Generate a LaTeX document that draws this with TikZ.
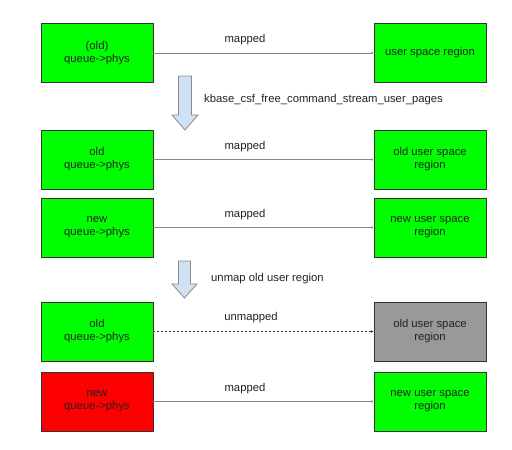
\documentclass[tikz,border=0pt]{standalone}
\usepackage{fontspec}
\setmainfont{Liberation Sans}
\usetikzlibrary{arrows.meta}
\definecolor{boxgreen}{HTML}{00FF00}
\definecolor{boxred}{HTML}{FF0000}
\definecolor{boxgray}{HTML}{999999}
\definecolor{edgegray}{HTML}{333333}
\definecolor{linegray}{HTML}{8A8A8A}
\definecolor{arrowblue}{HTML}{CFE2F3}
\definecolor{arrowedge}{HTML}{8C8C8C}
\definecolor{txt}{HTML}{222222}
\tikzset{
  region/.style={draw=edgegray, line width=0.8pt, minimum width=112pt, minimum height=59pt,
    inner sep=0pt, align=center, text=txt, font=\fontsize{11.3}{13}\selectfont},
  link/.style={draw=linegray, line width=0.8pt, -{Latex[length=2.5pt,width=2.5pt]}},
  deadlink/.style={draw=edgegray, line width=0.6pt, dashed, dash pattern=on 2pt off 2pt, -{Latex[length=2.5pt,width=2.5pt]}},
  lbl/.style={text=txt, font=\fontsize{11.3}{13}\selectfont, inner sep=0pt},
  blockarrow/.style={fill=arrowblue, draw=arrowedge, line width=0.8pt, line join=miter}
}
\begin{document}
\begin{tikzpicture}[x=1pt,y=-1pt]
\useasboundingbox (0,0) rectangle (512,450);
% row 1
\node[region, fill=boxgreen] (l1) at (97,53) {(old)\\queue->phys};
\node[region, fill=boxgreen] (r1) at (430,53) {user space region};
\draw[link] (l1) -- (r1);
\node[lbl] (m1) at (245,40) {mapped};
% block arrow 1
\draw[blockarrow] (178.5,76) -- (191.5,76) -- (191.5,115) -- (198,115) -- (185,130) -- (172,115) -- (178.5,115) -- cycle;
\node[lbl, anchor=west] (k1) at (204,100) {kbase\_csf\_free\_command\_stream\_user\_pages};
% rows 2 and 3
\node[region, fill=boxgreen] (l2) at (97,159.5) {old\\queue->phys};
\node[region, fill=boxgreen] (r2) at (430,159.5) {old user space\\region};
\draw[link] (l2) -- (r2);
\node[lbl] (m2) at (245,147) {mapped};
\node[region, fill=boxgreen] (l3) at (97,227.5) {new\\queue->phys};
\node[region, fill=boxgreen] (r3) at (430,227.5) {new user space\\region};
\draw[link] (l3) -- (r3);
\node[lbl] (m3) at (245,215) {mapped};
% block arrow 2
\draw[blockarrow] (178.5,261) -- (190.5,261) -- (190.5,284) -- (197,284) -- (184.5,298) -- (172,284) -- (178.5,284) -- cycle;
\node[lbl, anchor=west] (k2) at (211,279) {unmap old user region};
% rows 4 and 5
\node[region, fill=boxgreen] (l4) at (97,331.5) {old\\queue->phys};
\node[region, fill=boxgray] (r4) at (430,331.5) {old user space\\region};
\draw[deadlink] (l4) -- (r4);
\node[lbl] (m4) at (251,318) {unmapped};
\node[region, fill=boxred] (l5) at (97,401.5) {new\\queue->phys};
\node[region, fill=boxgreen] (r5) at (430,401.5) {new user space\\region};
\draw[link] (l5) -- (r5);
\node[lbl] (m5) at (245,389) {mapped};
\end{tikzpicture}
\end{document}
